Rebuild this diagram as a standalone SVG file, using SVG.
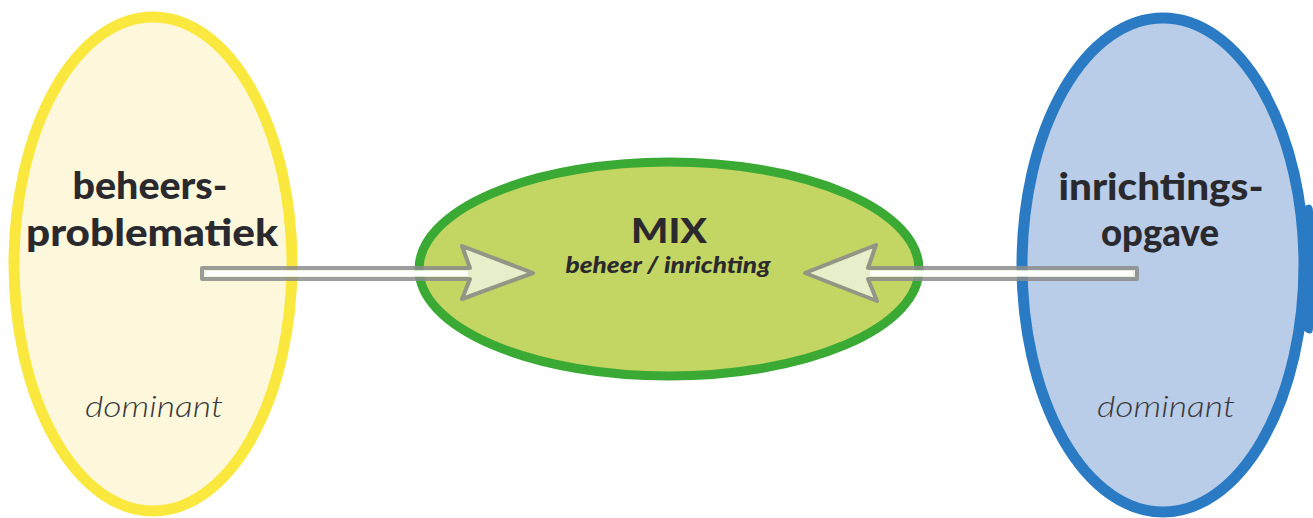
<svg xmlns="http://www.w3.org/2000/svg" width="1313" height="518" viewBox="0 0 1313 518">
<style>
.bold{font-family:Lato,"Liberation Sans",sans-serif;font-weight:900;fill:#2a2a2e;text-anchor:middle}
.ital{font-family:Lato,"Liberation Sans",sans-serif;font-weight:300;font-style:italic;fill:#3a3a3e;text-anchor:middle}
.sub{font-family:Lato,"Liberation Sans",sans-serif;font-weight:900;font-style:italic;fill:#2a2a2e;text-anchor:middle}
.arrow{stroke:#8c8c8c;stroke-width:4;stroke-linejoin:round;opacity:0.85}
</style>
<rect width="1313" height="518" fill="#ffffff"/>
<g id="node-beheer">
<ellipse cx="153" cy="264" rx="139" ry="247" fill="#FDF8DC" stroke="#FAE83E" stroke-width="11"/>
<text class="bold" x="150" y="199" font-size="38" textLength="155" lengthAdjust="spacingAndGlyphs">beheers-</text>
<text class="bold" x="152" y="246" font-size="38" textLength="252" lengthAdjust="spacingAndGlyphs">problematiek</text>
<text class="ital" x="154" y="417" font-size="30" textLength="138" lengthAdjust="spacingAndGlyphs">dominant</text>
</g>
<g id="node-inrichting">
<path d="M1303 207 Q1313 200 1313 212 L1313 328 Q1313 338 1303 330 Z" fill="#2B7BC4"/>
<ellipse cx="1163" cy="265" rx="141" ry="247" fill="#B9CDE9" stroke="#2B7BC4" stroke-width="11"/>
<text class="bold" x="1161" y="200" font-size="38" textLength="205" lengthAdjust="spacingAndGlyphs">inrichtings-</text>
<text class="bold" x="1160" y="246" font-size="38" textLength="118" lengthAdjust="spacingAndGlyphs">opgave</text>
<text class="ital" x="1166" y="417" font-size="30" textLength="138" lengthAdjust="spacingAndGlyphs" fill="#3b4654">dominant</text>
</g>
<g id="node-mix">
<ellipse cx="669" cy="269" rx="250" ry="107" fill="#C3D563" stroke="#3AAA35" stroke-width="9"/>
<text class="bold" x="669" y="243" font-size="34" textLength="76" lengthAdjust="spacingAndGlyphs">MIX</text>
<text class="sub" x="668" y="273" font-size="22" textLength="205" lengthAdjust="spacingAndGlyphs">beheer / inrichting</text>
</g>
<g id="connectors">
<path class="arrow" fill="#EEF4DC" d="M202 268 L470 268 L462 246 L533 273 L462 299 L470 279 L202 279 Z"/>
<rect x="206" y="271" width="262" height="5" fill="#ffffff" opacity="0.9"/>
<path class="arrow" fill="#EEF4DC" d="M1137 268 L868 268 L876 245 L805 273 L877 301 L868 279 L1137 279 Z"/>
<rect x="870" y="271" width="263" height="5" fill="#ffffff" opacity="0.9"/>
</g>
</svg>
